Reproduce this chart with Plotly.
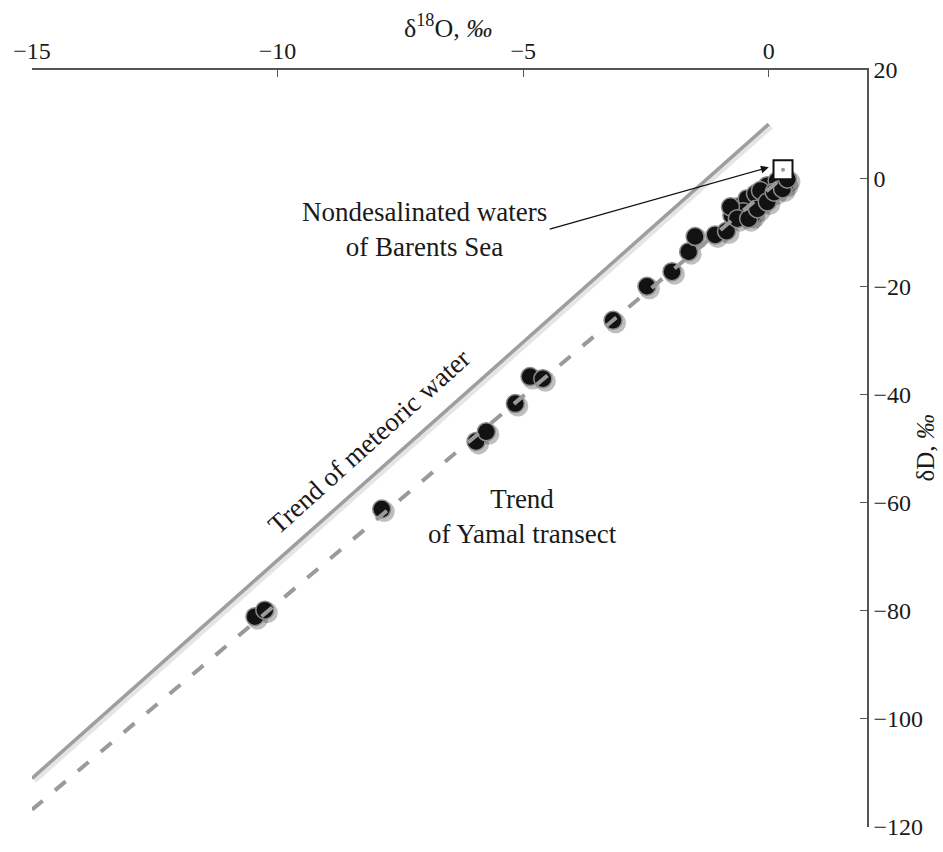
import plotly.graph_objects as go

# ---- data ----
d18O = [-10.46, -10.26, -7.88, -5.96, -5.75, -5.16, -4.86, -4.60, -3.17, -2.48,
        -1.97, -1.63, -1.50, -1.09, -0.86, -0.75, -0.62, -0.44, -0.27, -0.52,
        -0.34, -0.03, 0.17, 0.34, -0.17, -0.78, -0.64, -0.41, -0.23, -0.03,
        0.11, 0.28, 0.38]
dD = [-81.1, -79.9, -61.2, -48.7, -46.9, -41.7, -36.7, -37.1, -26.3, -20.0,
      -17.3, -13.6, -10.8, -10.5, -9.8, -6.9, -5.3, -3.8, -2.9, -6.2,
      -6.9, -1.4, -0.5, -1.1, -2.3, -5.3, -7.5, -7.5, -5.7, -4.4,
      -2.6, -2.0, -0.2]

barents_x = [0.29]
barents_y = [1.55]

meteoric_x = [-15, 0]
meteoric_y = [-111, 10]

yamal_x = [-15, 0.3]
yamal_y = [-116.8, 0.25]

x_ticks = [-15, -10, -5, 0]
y_ticks = [20, 0, -20, -40, -60, -80, -100, -120]

# ---- styling ----
FONT = "Liberation Serif"
W, H = 943, 852
ML, MR, MT, MB = 32, 76, 70, 18
X_RANGE = [-15, 2]
Y_RANGE = [-120, 20]
px_per_x = (W - ML - MR) / (X_RANGE[1] - X_RANGE[0])
px_per_y = (H - MT - MB) / (Y_RANGE[1] - Y_RANGE[0])
sh_dx = 2.5 / px_per_x
sh_dy = -2.5 / px_per_y

fig = go.Figure()

# soft shadows
fig.add_trace(go.Scatter(x=[v + sh_dx for v in meteoric_x], y=[v + sh_dy for v in meteoric_y],
                         mode="lines", line=dict(color="rgba(0,0,0,0.10)", width=5),
                         hoverinfo="skip", showlegend=False))
fig.add_trace(go.Scatter(x=[v + sh_dx for v in d18O], y=[v + sh_dy for v in dD],
                         mode="markers", marker=dict(size=21, color="rgba(0,0,0,0.25)", line=dict(width=0)),
                         hoverinfo="skip", showlegend=False))

# meteoric water line
fig.add_trace(go.Scatter(x=meteoric_x, y=meteoric_y, mode="lines",
                         line=dict(color="#9e9e9e", width=3.5), showlegend=False))

# data points
fig.add_trace(go.Scatter(x=d18O, y=dD, mode="markers",
                         marker=dict(size=18, color="#121212", line=dict(color="#8c8c8c", width=1.5)),
                         showlegend=False))

# Yamal transect trend (dashed, over the points)
fig.add_trace(go.Scatter(x=yamal_x, y=yamal_y, mode="lines",
                         line=dict(color="#9a9a9a", width=4, dash="14px,16px"), showlegend=False))

# Barents Sea marker
fig.add_trace(go.Scatter(x=barents_x, y=barents_y, mode="markers",
                         marker=dict(symbol="square", size=19, color="white", line=dict(color="#111", width=2)),
                         showlegend=False))
fig.add_trace(go.Scatter(x=barents_x, y=barents_y, mode="markers",
                         marker=dict(size=4, color="#999"), showlegend=False))

axis_common = dict(showgrid=False, zeroline=False, showline=True, linecolor="#555", linewidth=1.5,
                   ticks="inside", ticklen=7, tickwidth=1.2, tickcolor="#555",
                   tickfont=dict(family=FONT, size=24, color="#1a1a1a"))

fig.update_layout(
    width=W, height=H,
    margin=dict(l=ML, r=MR, t=MT, b=MB),
    plot_bgcolor="white", paper_bgcolor="white",
    font=dict(family=FONT, color="#1a1a1a"),
    xaxis=dict(range=X_RANGE, side="top", tickmode="array", tickvals=x_ticks,
               ticktext=[f"\u2212{abs(v)}" if v < 0 else str(v) for v in x_ticks], **axis_common),
    yaxis=dict(range=Y_RANGE, side="right", tickmode="array", tickvals=y_ticks,
               ticktext=[f"\u2212{abs(v)}" if v < 0 else str(v) for v in y_ticks], **axis_common),
    showlegend=False,
)

annots = [
    dict(text="\u03b4<sup>18</sup>O, <i>\u2030</i>", xref="paper", yref="paper",
         x=(448 - ML) / (W - ML - MR), y=1 + (MT - 26) / (H - MT - MB),
         xanchor="center", yanchor="middle", showarrow=False,
         font=dict(family=FONT, size=26)),
    dict(text="\u03b4D, <i>\u2030</i>", xref="paper", yref="paper",
         x=(925 - ML) / (W - ML - MR), y=0.5, xanchor="center", yanchor="middle",
         textangle=-90, showarrow=False,
         font=dict(family=FONT, size=25)),
    dict(text="Nondesalinated waters<br>of Barents Sea", x=-7.0, y=-9.5, showarrow=False,
         xanchor="center", yanchor="middle", font=dict(family=FONT, size=27)),
    dict(text="Trend of meteoric water", x=-8.12, y=-48.7, textangle=-42, showarrow=False,
         xanchor="center", yanchor="middle", font=dict(family=FONT, size=27)),
    dict(text="Trend<br>of Yamal transect", x=-5.02, y=-62.5, showarrow=False,
         xanchor="center", yanchor="middle", font=dict(family=FONT, size=27)),
    dict(text="", x=0.0, y=2.0, ax=-4.49, ay=-9.5, axref="x", ayref="y",
         showarrow=True, arrowhead=2, arrowsize=1.2, arrowwidth=1.3, arrowcolor="#111"),
]
fig.update_layout(annotations=annots)

fig.write_html("out.html")
